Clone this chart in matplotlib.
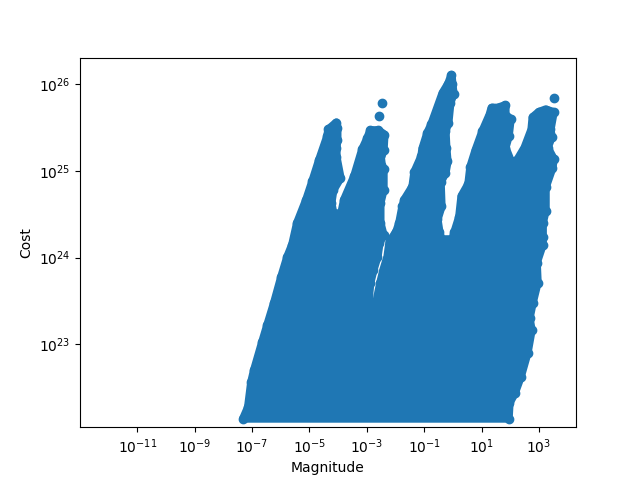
import numpy as np
import matplotlib
matplotlib.use('Agg')
import matplotlib.pyplot as plt

# log10 values read along the edge of the dense cloud, clockwise from bottom left
log_magnitude = [
    -7.31, -7.14, -7.03, -6.93, -6.65, -6.47, -6.23, -5.98, -5.77, -5.60,
    -5.43, -5.11, -4.90, -4.66, -4.38, -4.34, -4.06, -4.03, -4.03, -4.06,
    -4.06, -3.92, -4.17, -4.24, -4.17, -3.89, -3.79, -3.44, -3.16, -2.98, -2.88,
    -2.60, -2.39, -2.42, -2.53, -2.42, -2.42, -2.53, -2.53, -2.42, -2.56,
    -2.63, -2.77, -2.88, -2.95, -2.84, -2.67, -2.53, -2.42, -2.28, -2.21,
    -1.97, -1.87, -1.76, -1.69, -1.41, -1.34, -1.10, -1.06, -0.89, -0.75,
    -0.36, -0.16, -0.05, -0.02, 0.02, -0.09, -0.16, -0.26, -0.23, -0.19,
    -0.26, -0.43, -0.40, -0.54, -0.47, -0.40, -0.02, 0.05, 0.22, 0.30, 0.54, 0.61, 0.79,
    1.03, 1.28, 1.35, 1.56, 1.83, 1.83, 2.01, 1.94, 1.83, 2.01,
    1.94, 2.25, 2.50, 2.74, 2.78, 2.99, 3.23, 3.51, 3.40, 3.44,
    3.30, 3.51, 3.47, 3.23, 3.23, 3.13, 3.13, 3.13, 2.92, 2.95,
    2.78, 2.67, 2.74, 2.60, 2.36, 2.15, 1.97, 1.94,
]
log_cost = [
    22.14, 22.27, 22.56, 22.70, 23.02, 23.22, 23.48, 23.78, 24.01, 24.15,
    24.40, 24.67, 24.88, 25.13, 25.40, 25.48, 25.56, 25.50, 25.36, 25.27,
    25.16, 24.92, 24.78, 24.63, 24.51, 24.51, 24.67, 24.94, 25.25, 25.38, 25.47,
    25.47, 25.42, 25.24, 25.13, 25.02, 24.78, 24.63, 24.40, 24.26, 24.17,
    24.01, 23.86, 23.71, 23.48, 23.44, 23.48, 23.71, 23.86, 24.01, 24.18,
    24.30, 24.40, 24.59, 24.67, 24.82, 24.99, 25.17, 25.26, 25.44, 25.54,
    25.90, 26.01, 26.11, 26.00, 25.89, 25.79, 25.56, 25.46, 25.26, 25.11,
    24.98, 24.87, 24.59, 24.44, 24.29, 24.21, 24.21, 24.29, 24.47, 24.71, 24.85, 25.05, 25.24,
    25.46, 25.65, 25.73, 25.73, 25.76, 25.65, 25.60, 25.40, 25.27, 25.12,
    24.92, 25.13, 25.27, 25.48, 25.62, 25.68, 25.71, 25.68, 25.48, 25.39,
    25.27, 25.14, 25.04, 24.81, 24.54, 24.40, 24.24, 24.15, 23.94, 23.71,
    23.48, 23.30, 23.16, 22.90, 22.62, 22.43, 22.32, 22.14,
]

# points standing clear of the cloud
stray_log_magnitude = [-2.56, -2.49, 3.51]
stray_log_cost = [25.63, 25.79, 25.84]

magnitude = 10.0 ** np.array(log_magnitude)
cost = 10.0 ** np.array(log_cost)
stray_magnitude = 10.0 ** np.array(stray_log_magnitude)
stray_cost = 10.0 ** np.array(stray_log_cost)

fig, ax = plt.subplots(figsize=(6.4, 4.8), dpi=100)
# edge stroke as wide as one marker, so the cloud swells like the overlapping dots
ax.fill(magnitude, cost, facecolor='C0', edgecolor='C0', linewidth=6, joinstyle='round')
ax.scatter(magnitude, cost, color='C0')
ax.scatter(stray_magnitude, stray_cost, color='C0')

ax.set_xscale('log')
ax.set_yscale('log')
ax.set_xlim(1e-13, 10 ** 4.29)
ax.set_ylim(10 ** 22.04, 10 ** 26.31)
ax.set_xticks([1e-11, 1e-9, 1e-7, 1e-5, 1e-3, 1e-1, 1e1, 1e3])
ax.set_yticks([1e23, 1e24, 1e25, 1e26])
ax.minorticks_off()
ax.set_xlabel('Magnitude')
ax.set_ylabel('Cost')

plt.savefig('out.png', dpi=100)
